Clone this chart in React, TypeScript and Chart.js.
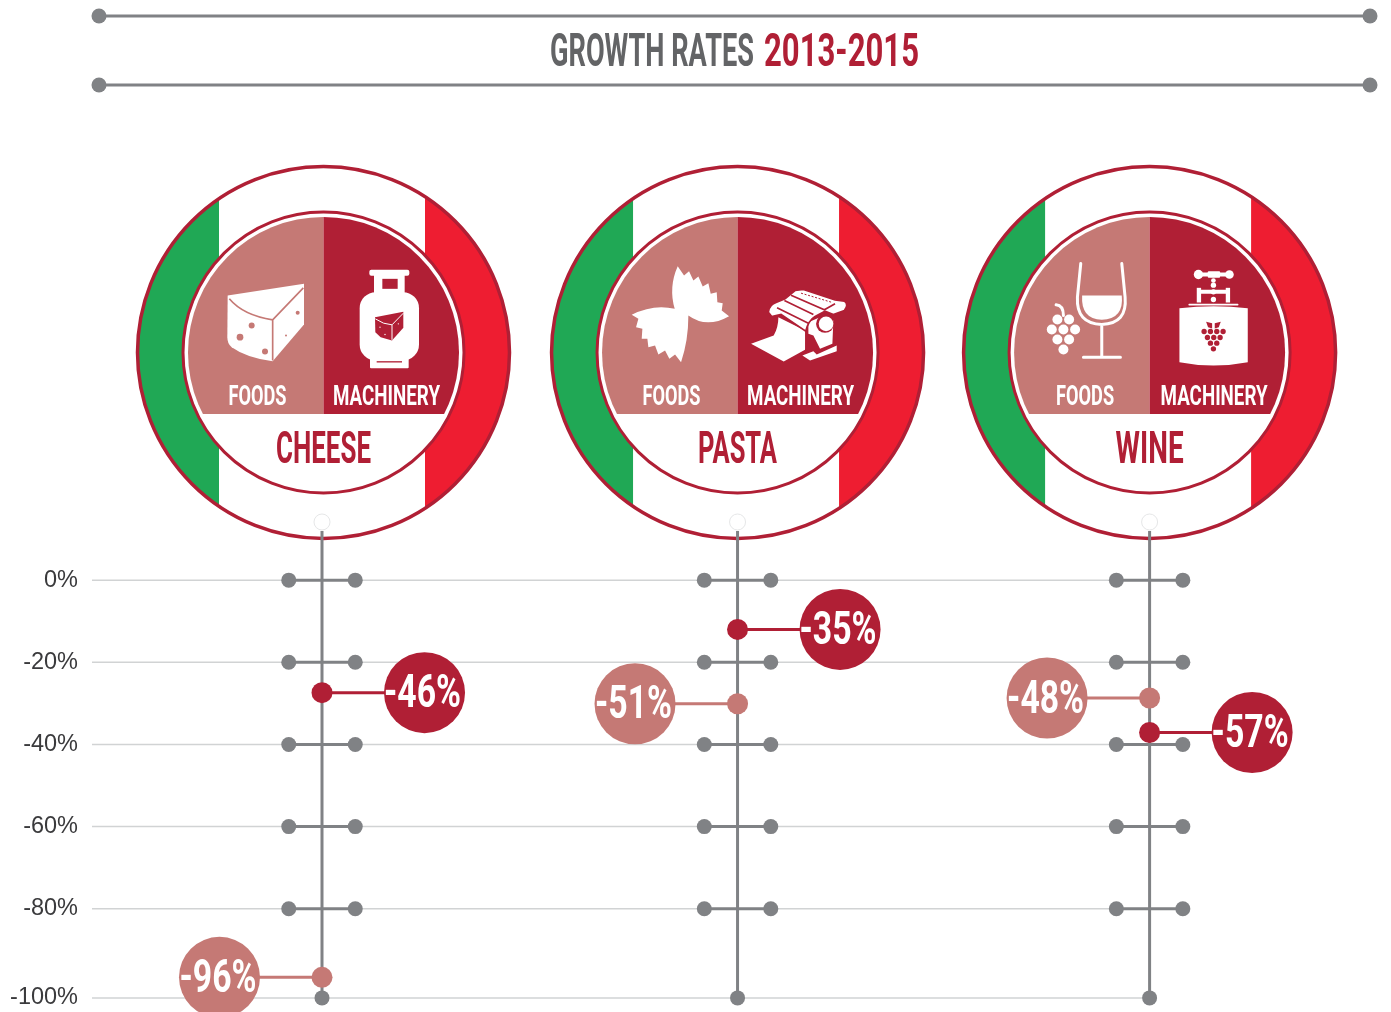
import React, { useEffect, useRef } from "react";
import { Chart, registerables } from "chart.js";

Chart.register(...registerables);

const categories = ["CHEESE", "PASTA", "WINE"];
const categoryPositions = [0, 1, 1.9916];
const foodsPlotted = [-96.7, -30.1, -28.7];
const machineryPlotted = [-27.4, -12, -37.1];
const foodsLabels = ["-96%", "-51%", "-48%"];
const machineryLabels = ["-46%", "-35%", "-57%"];
const tickValues = [0, -20, -40, -60, -80, -101.7];
const tickLabels = ["0%", "-20%", "-40%", "-60%", "-80%", "-100%"];
const titleParts = ["GROWTH RATES", "2013-2015"];
const sideLabels = ["FOODS", "MACHINERY"];

const GRAY = "#808285";
const ROSE = "#c57975";
const CRIMSON = "#b01f35";
const GREEN = "#20a855";
const RED = "#ee1d31";
const WHITE = "#ffffff";
const TOP = 14.15;
const X_MIN = -0.5535;
const X_MAX = 2.522;
const BUBBLE_OFFSET = 0.2467;
const ARM = 0.08;

const FACE = "Roboto, 'Liberation Sans', sans-serif";

function squeezed(ctx: any, text: string, x: number, y: number, size: number, width: number, color: string) {
  ctx.save();
  ctx.font = `700 ${size}px ${FACE}`;
  ctx.textAlign = "center";
  ctx.textBaseline = "alphabetic";
  const w = ctx.measureText(text).width;
  ctx.translate(x, y);
  ctx.scale(width / w, 1);
  ctx.fillStyle = color;
  ctx.fillText(text, 0, 0);
  ctx.restore();
}

function poly(ctx: any, pts: number[][]) {
  ctx.beginPath();
  pts.forEach((p, i) => (i ? ctx.lineTo(p[0], p[1]) : ctx.moveTo(p[0], p[1])));
  ctx.closePath();
}

function dots(ctx: any, list: number[][], color: string) {
  ctx.fillStyle = color;
  list.forEach((d) => {
    ctx.beginPath();
    ctx.arc(d[0], d[1], d[2], 0, Math.PI * 2);
    ctx.fill();
  });
}

function roundBox(ctx: any, x: number, y: number, w: number, h: number, r: number, color: string) {
  ctx.fillStyle = color;
  ctx.beginPath();
  ctx.roundRect(x, y, w, h, r);
  ctx.fill();
}

function cheeseIcons(ctx: any) {
  ctx.fillStyle = WHITE;
  ctx.beginPath();
  ctx.moveTo(323, 435);
  ctx.lineTo(552, 400);
  ctx.lineTo(552, 522);
  ctx.lineTo(458, 632);
  ctx.quadraticCurveTo(380, 622, 335, 590);
  ctx.quadraticCurveTo(322, 580, 322, 560);
  ctx.closePath();
  ctx.fill();
  ctx.strokeStyle = ROSE;
  ctx.lineWidth = 5;
  ctx.beginPath();
  ctx.moveTo(328, 445);
  ctx.quadraticCurveTo(370, 495, 458, 508);
  ctx.lineTo(550, 412);
  ctx.moveTo(458, 508);
  ctx.lineTo(458, 630);
  ctx.stroke();
  dots(ctx, [[395, 525, 9], [360, 560, 10], [435, 603, 9], [533, 487, 6], [498, 555, 3]], ROSE);

  roundBox(ctx, 748, 358, 120, 18, 6, WHITE);
  roundBox(ctx, 762, 372, 92, 60, 0, WHITE);
  roundBox(ctx, 787, 385, 46, 30, 0, CRIMSON);
  roundBox(ctx, 719, 425, 178, 205, 48, WHITE);
  roundBox(ctx, 750, 620, 116, 33, 3, WHITE);
  roundBox(ctx, 770, 632, 76, 4, 0, CRIMSON);
  ctx.fillStyle = CRIMSON;
  poly(ctx, [[765, 500], [850, 484], [850, 532], [816, 570], [782, 560], [766, 545]]);
  ctx.fill();
  ctx.strokeStyle = WHITE;
  ctx.lineWidth = 3;
  ctx.beginPath();
  ctx.moveTo(766, 505);
  ctx.quadraticCurveTo(790, 522, 816, 523);
  ctx.lineTo(850, 488);
  ctx.moveTo(816, 523);
  ctx.lineTo(816, 568);
  ctx.stroke();
  dots(ctx, [[780, 530, 2], [795, 552, 2], [835, 520, 2]], WHITE);
}

function pastaIcons(ctx: any) {
  ctx.fillStyle = WHITE;
  ctx.beginPath();
  ctx.moveTo(413, 197);
  [[432, 225], [447, 212], [460, 240], [475, 228], [488, 258], [505, 248], [512, 280], [530, 275], [532, 305], [548, 308], [545, 330], [567, 347]].forEach((p) => ctx.lineTo(p[0], p[1]));
  ctx.quadraticCurveTo(500, 385, 445, 345);
  ctx.quadraticCurveTo(445, 420, 423, 485);
  [[405, 462], [388, 475], [375, 450], [355, 462], [345, 435], [325, 440], [322, 415], [305, 415], [307, 385], [288, 380], [295, 355], [275, 343]].forEach((p) => ctx.lineTo(p[0], p[1]));
  ctx.quadraticCurveTo(340, 310, 404, 325);
  ctx.quadraticCurveTo(385, 260, 413, 197);
  ctx.closePath();
  ctx.fill();

  ctx.save();
  ctx.translate(615, 240);
  ctx.fillStyle = WHITE;
  ctx.beginPath();
  ctx.moveTo(18, 190);
  ctx.lineTo(86, 165);
  ctx.quadraticCurveTo(100, 140, 100, 110);
  ctx.lineTo(180, 150);
  ctx.lineTo(180, 208);
  ctx.lineTo(116, 243);
  ctx.closePath();
  ctx.fill();
  ctx.fillStyle = WHITE;
  poly(ctx, [[190, 125], [225, 110], [265, 120], [262, 190], [225, 205], [205, 165], [190, 160]]);
  ctx.fill();
  poly(ctx, [[172, 225], [205, 212], [215, 222], [275, 195], [275, 212], [195, 240]]);
  ctx.fill();
  ctx.strokeStyle = CRIMSON;
  ctx.lineWidth = 5;
  ctx.fillStyle = WHITE;
  ctx.beginPath();
  ctx.moveTo(70, 95);
  ctx.quadraticCurveTo(72, 72, 95, 65);
  ctx.lineTo(120, 55);
  ctx.lineTo(150, 30);
  ctx.lineTo(175, 27);
  ctx.lineTo(270, 58);
  ctx.lineTo(298, 62);
  ctx.quadraticCurveTo(312, 72, 298, 90);
  ctx.lineTo(265, 102);
  ctx.lineTo(240, 92);
  ctx.lineTo(210, 108);
  ctx.quadraticCurveTo(190, 120, 182, 152);
  ctx.lineTo(108, 102);
  ctx.lineTo(80, 108);
  ctx.closePath();
  ctx.fill();
  ctx.stroke();
  ctx.beginPath();
  ctx.moveTo(118, 60);
  ctx.lineTo(205, 102);
  ctx.moveTo(96, 82);
  ctx.lineTo(190, 128);
  ctx.moveTo(138, 44);
  ctx.lineTo(238, 88);
  ctx.lineTo(270, 70);
  ctx.stroke();
  ctx.setLineDash([6, 5]);
  ctx.lineWidth = 3;
  ctx.beginPath();
  ctx.moveTo(168, 38);
  ctx.lineTo(262, 66);
  ctx.stroke();
  ctx.setLineDash([]);
  dots(ctx, [[240, 130, 27]], CRIMSON);
  dots(ctx, [[243, 130, 22]], WHITE);
  ctx.restore();
}

function wineIcons(ctx: any) {
  ctx.strokeStyle = WHITE;
  ctx.lineCap = "round";
  ctx.lineWidth = 9;
  ctx.beginPath();
  ctx.moveTo(242, 189);
  ctx.lineTo(232, 290);
  ctx.quadraticCurveTo(228, 370, 305, 372);
  ctx.quadraticCurveTo(382, 370, 375, 290);
  ctx.lineTo(365, 189);
  ctx.moveTo(305, 372);
  ctx.lineTo(305, 468);
  ctx.moveTo(250, 470);
  ctx.lineTo(361, 470);
  ctx.moveTo(168, 313);
  ctx.quadraticCurveTo(190, 315, 190, 345);
  ctx.stroke();
  ctx.fillStyle = WHITE;
  ctx.beginPath();
  ctx.moveTo(246, 285);
  ctx.lineTo(365, 285);
  ctx.quadraticCurveTo(372, 356, 305, 358);
  ctx.quadraticCurveTo(242, 356, 246, 285);
  ctx.fill();
  dots(ctx, [[172, 357, 15], [207, 357, 15], [155, 387, 15], [190, 387, 15], [225, 387, 15], [172, 417, 15], [207, 417, 15], [190, 447, 15]], WHITE);

  ctx.save();
  ctx.translate(510, 180);
  dots(ctx, [[85, 42, 14], [178, 42, 13]], WHITE);
  roundBox(ctx, 85, 36, 93, 12, 0, WHITE);
  roundBox(ctx, 113, 32, 37, 20, 3, WHITE);
  roundBox(ctx, 82, 88, 96, 12, 0, WHITE);
  roundBox(ctx, 80, 82, 13, 44, 0, WHITE);
  roundBox(ctx, 167, 82, 13, 44, 0, WHITE);
  dots(ctx, [[130, 60, 7], [130, 74, 8], [130, 94, 8], [130, 117, 8]], WHITE);
  roundBox(ctx, 55, 130, 150, 5, 2, WHITE);
  ctx.fillStyle = WHITE;
  ctx.beginPath();
  ctx.moveTo(28, 143);
  ctx.quadraticCurveTo(130, 132, 233, 143);
  ctx.lineTo(233, 305);
  ctx.quadraticCurveTo(130, 325, 28, 305);
  ctx.closePath();
  ctx.fill();
  ctx.restore();
  dots(ctx, [[612, 393, 8], [631, 393, 8], [650, 393, 8], [669, 393, 8], [622, 411, 8], [641, 411, 8], [660, 411, 8], [631, 428, 8], [650, 428, 8], [640, 445, 8]], CRIMSON);
  ctx.fillStyle = CRIMSON;
  poly(ctx, [[618, 364], [636, 368], [636, 384], [624, 380]]);
  ctx.fill();
  poly(ctx, [[662, 364], [644, 368], [644, 384], [656, 380]]);
  ctx.fill();
}

const iconSets = [
  { draw: cheeseIcons, dx: -203.5, dy: -202 },
  { draw: pastaIcons, dx: -197.5, dy: -152 },
  { draw: wineIcons, dx: -149.5, dy: -152 },
];

const sideLabelNudges = [0, 0, 1.5];

function badge(ctx: any, cx: number, cy: number, name: string, nameWidth: number, index: number) {
  ctx.save();
  ctx.beginPath();
  ctx.arc(cx, cy, 186, 0, Math.PI * 2);
  ctx.save();
  ctx.fillStyle = WHITE;
  ctx.fill();
  ctx.clip();
  ctx.fillStyle = GREEN;
  ctx.fillRect(cx - 190, cy - 190, 85.5, 380);
  ctx.fillStyle = RED;
  ctx.fillRect(cx + 101.5, cy - 190, 90, 380);
  ctx.restore();
  ctx.strokeStyle = CRIMSON;
  ctx.lineWidth = 3.5;
  ctx.stroke();

  ctx.beginPath();
  ctx.arc(cx, cy, 140.5, 0, Math.PI * 2);
  ctx.fillStyle = WHITE;
  ctx.fill();
  ctx.strokeStyle = CRIMSON;
  ctx.lineWidth = 3;
  ctx.stroke();

  ctx.save();
  ctx.beginPath();
  ctx.arc(cx, cy, 135.5, 0, Math.PI * 2);
  ctx.clip();
  ctx.fillStyle = ROSE;
  ctx.fillRect(cx - 140, cy - 140, 140, 201.5);
  ctx.fillStyle = CRIMSON;
  ctx.fillRect(cx, cy - 140, 140, 201.5);
  ctx.restore();

  const set = iconSets[index];
  ctx.save();
  ctx.translate(cx + set.dx, cy + set.dy);
  ctx.scale(1 / 3, 1 / 3);
  set.draw(ctx);
  ctx.restore();

  const nudge = sideLabelNudges[index];
  squeezed(ctx, sideLabels[0], cx - 66 + nudge, cy + 52.5, 28, 58, WHITE);
  squeezed(ctx, sideLabels[1], cx + 63 + nudge, cy + 52.5, 28, 107, WHITE);
  squeezed(ctx, name, cx, cy + 110, 45, nameWidth, CRIMSON);
  ctx.restore();
}

function rule(ctx: any, y: number) {
  ctx.strokeStyle = GRAY;
  ctx.lineWidth = 3;
  ctx.beginPath();
  ctx.moveTo(99, y);
  ctx.lineTo(1370, y);
  ctx.stroke();
  dots(ctx, [[99, y, 7.5], [1370, y, 7.5]], GRAY);
}

const nameWidths = [95, 79, 68];
const badgeNudges = [1.5, 0, 0];

const artwork = {
  id: "artwork",
  beforeDatasetsDraw(chart: any) {
    const { ctx, scales } = chart;
    rule(ctx, 16);
    rule(ctx, 85);
    squeezed(ctx, titleParts[0], 652, 66, 46, 204, "#636466");
    squeezed(ctx, titleParts[1], 841.5, 66, 46, 155, CRIMSON);
    categories.forEach((name, i) => {
      badge(ctx, scales.x.getPixelForValue(categoryPositions[i]) + badgeNudges[i], 352.5, name, nameWidths[i], i);
    });
  },
  afterDatasetsDraw(chart: any) {
    const { ctx, scales } = chart;
    categories.forEach((_, i) => {
      const x = categoryPositions[i];
      squeezed(ctx, foodsLabels[i], scales.x.getPixelForValue(x - BUBBLE_OFFSET) - 1.5, scales.y.getPixelForValue(foodsPlotted[i]) + 14.5, 46, 77, WHITE);
      squeezed(ctx, machineryLabels[i], scales.x.getPixelForValue(x + BUBBLE_OFFSET) - 2, scales.y.getPixelForValue(machineryPlotted[i]) + 14.5, 46, 77, WHITE);
    });
  },
};

function line(points: { x: number; y: number }[], color: string, width: number, radius: number, order: number, extra: any = {}) {
  return {
    type: "scatter",
    showLine: true,
    data: points,
    borderColor: color,
    backgroundColor: color,
    borderWidth: width,
    pointBorderWidth: 0,
    pointRadius: radius,
    pointHoverRadius: radius,
    clip: false,
    order,
    ...extra,
  };
}

function buildDatasets() {
  const sets: any[] = [];
  tickValues.forEach((v) => {
    sets.push(line([{ x: X_MIN, y: v }, { x: categoryPositions[2], y: v }], "#d1d3d4", 1.5, 0, 9));
  });
  categoryPositions.forEach((x, i) => {
    sets.push(line([{ x, y: tickValues[5] }, { x, y: TOP - 2.2 }], GRAY, 3, 0, 6));
    sets.push(line([{ x, y: tickValues[5] }], GRAY, 0, 7.5, 5));
    sets.push(line([{ x, y: TOP }], WHITE, 0, 8, 5, { pointBorderWidth: 1, pointBorderColor: "#e6e7e8" }));
    tickValues.slice(0, 5).forEach((v) => {
      sets.push(line([{ x: x - ARM, y: v }, { x: x + ARM, y: v }], GRAY, 3, 7.5, 5));
    });
    const fx = x - BUBBLE_OFFSET;
    const mx = x + BUBBLE_OFFSET;
    sets.push(line([{ x: fx, y: foodsPlotted[i] }, { x, y: foodsPlotted[i] }], ROSE, 3, 0, 3));
    sets.push(line([{ x, y: foodsPlotted[i] }], ROSE, 0, 10.5, 2));
    sets.push(line([{ x: fx, y: foodsPlotted[i] }], ROSE, 0, 40.5, 2));
    sets.push(line([{ x, y: machineryPlotted[i] }, { x: mx, y: machineryPlotted[i] }], CRIMSON, 3, 0, 1));
    sets.push(line([{ x, y: machineryPlotted[i] }], CRIMSON, 0, 10.5, 0));
    sets.push(line([{ x: mx, y: machineryPlotted[i] }], CRIMSON, 0, 40.5, 0));
  });
  return sets;
}

export default function App() {
  const ref = useRef<HTMLCanvasElement | null>(null);
  useEffect(() => {
    if (!ref.current) return;
    const chart = new Chart(ref.current, {
      type: "scatter",
      data: { datasets: buildDatasets() },
      plugins: [artwork],
      options: {
        animation: false,
        responsive: false,
        layout: { autoPadding: false, padding: { top: 522, right: 21, bottom: 15, left: 0 } },
        plugins: { legend: { display: false }, tooltip: { enabled: false } },
        scales: {
          x: { type: "linear", display: false, min: X_MIN, max: X_MAX },
          y: {
            type: "linear",
            min: tickValues[5],
            max: TOP,
            afterFit: (s: any) => {
              s.width = 92;
            },
            afterBuildTicks: (s: any) => {
              s.ticks = tickValues.map((value) => ({ value }));
            },
            border: { display: false },
            grid: { display: false, drawTicks: false },
            ticks: {
              autoSkip: false,
              padding: 14,
              color: "#3a3a3c",
              font: { family: "'Liberation Sans', Arial, sans-serif", size: 23.5 },
              callback: (v: any) => tickLabels[tickValues.indexOf(v)],
            },
          },
        },
      },
    } as any);
    return () => chart.destroy();
  }, []);
  return (
    <div style={{ position: "absolute", left: 0, top: 0, width: 1391, height: 1012, overflow: "hidden", background: "#fff" }}>
      <canvas ref={ref} width={1391} height={1026} style={{ display: "block" }} />
    </div>
  );
}
